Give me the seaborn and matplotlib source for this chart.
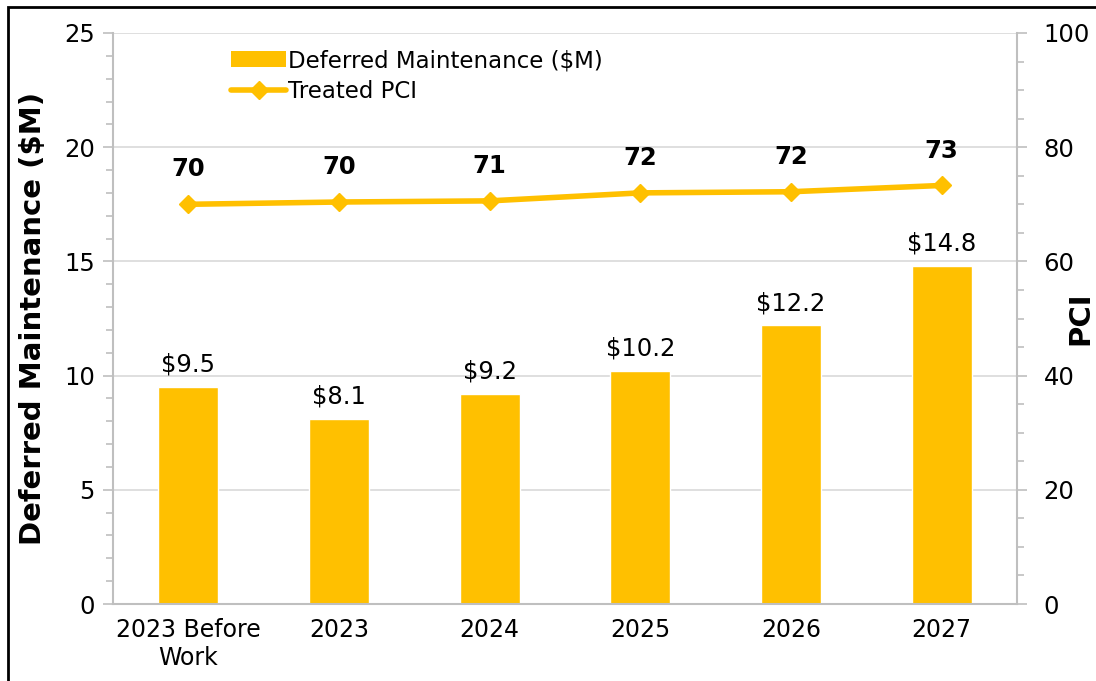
import numpy as np
import pandas as pd
import seaborn as sns
import matplotlib.pyplot as plt
from matplotlib.lines import Line2D
from matplotlib.patches import Patch, Rectangle
from matplotlib.ticker import MultipleLocator

# Chart data
categories = ['2023 Before\nWork', '2023', '2024', '2025', '2026', '2027']
deferred = [9.5, 8.1, 9.2, 10.2, 12.2, 14.8]
pci = [70.0, 70.4, 70.6, 72.0, 72.2, 73.3]
pci_labels = ['70', '70', '71', '72', '72', '73']

gold = '#FFC000'
grid_gray = '#d9d9d9'
spine_gray = '#bfbfbf'

sns.set_theme(style='white')
plt.rcParams['font.family'] = ['DejaVu Sans']
plt.rcParams['text.color'] = 'black'
plt.rcParams['xtick.labelcolor'] = 'black'
plt.rcParams['ytick.labelcolor'] = 'black'
plt.rcParams['axes.labelcolor'] = 'black'

df = pd.DataFrame({'year': categories, 'deferred': deferred, 'pci': pci})

fig = plt.figure(figsize=(10.96, 6.81), dpi=100)
ax = fig.add_axes([113 / 1096, 1 - 604 / 681, (1017 - 113) / 1096, (604 - 33) / 681])

sns.barplot(data=df, x='year', y='deferred', color=gold, width=0.4,
            saturation=1, ax=ax, zorder=2)
ax.set_ylim(0, 25)
ax.yaxis.set_major_locator(MultipleLocator(5))
ax.yaxis.set_minor_locator(MultipleLocator(1))
ax.set_xlim(-0.5, len(categories) - 0.5)
ax.grid(axis='y', color=grid_gray, linewidth=1.2, zorder=0)
ax.set_axisbelow(True)
ax.set_xlabel('')
ax.set_ylabel('Deferred Maintenance ($M)', fontsize=21, fontweight='bold', labelpad=12)
ax.tick_params(axis='x', labelsize=17, length=0, pad=10, labelcolor='black')
ax.tick_params(axis='y', which='major', labelsize=17.5, length=7, color=spine_gray,
               width=1.2, left=True, pad=6, labelcolor='black')
ax.tick_params(axis='y', which='minor', length=5, color=spine_gray, width=1.2, left=True)
for s in ['top', 'right']:
    ax.spines[s].set_visible(False)
for s in ['left', 'bottom']:
    ax.spines[s].set_color(spine_gray)
    ax.spines[s].set_linewidth(1.5)

for i, v in enumerate(deferred):
    ax.text(i, v + 0.45, f'${v:.1f}', ha='center', va='bottom', fontsize=17.5, color='black')

ax2 = ax.twinx()
ax2.plot(range(len(categories)), pci, color=gold, linewidth=4, marker='D',
         markersize=9, zorder=3)
ax2.set_ylim(0, 100)
ax2.set_xlim(-0.5, len(categories) - 0.5)
ax2.yaxis.set_major_locator(MultipleLocator(20))
ax2.yaxis.set_minor_locator(MultipleLocator(5))
ax2.tick_params(axis='y', which='major', labelsize=17.5, length=7, color=spine_gray,
                width=1.2, right=True, pad=12, labelcolor='black')
ax2.tick_params(axis='y', which='minor', length=5, color=spine_gray, width=1.2, right=True)
for s in ['top', 'left', 'bottom']:
    ax2.spines[s].set_visible(False)
ax2.spines['right'].set_color(spine_gray)
ax2.spines['right'].set_linewidth(1.5)

# right axis title, close to the image edge as in the original
fig.text(1066 / 1096, 1 - 318 / 681, 'PCI', rotation=90, ha='left', va='center',
         fontsize=21, fontweight='bold', color='black')

for i, (v, lab) in enumerate(zip(pci, pci_labels)):
    ax2.text(i, v + 4.0, lab, ha='center', va='bottom', fontsize=17.5,
             fontweight='bold', color='black')

handles = [Patch(facecolor=gold, edgecolor='none'),
           Line2D([0], [0], color=gold, linewidth=4, marker='D', markersize=9)]
ax2.legend(handles, ['Deferred Maintenance ($M)', 'Treated PCI'],
           loc='upper left', bbox_to_anchor=(222 / 1096, 1 - 40 / 681),
           bbox_transform=fig.transFigure, frameon=False, fontsize=16.5,
           handlelength=2.4, handletextpad=0.1, labelspacing=0.35, borderaxespad=0)

# Outer frame (cropped on the right and bottom)
fig.patches.append(Rectangle((8 / 1096, -0.05), 1.2, 1 - 7 / 681 + 0.05,
                             transform=fig.transFigure, fill=False,
                             edgecolor='black', linewidth=2))

fig.savefig('out.png', dpi=100)
